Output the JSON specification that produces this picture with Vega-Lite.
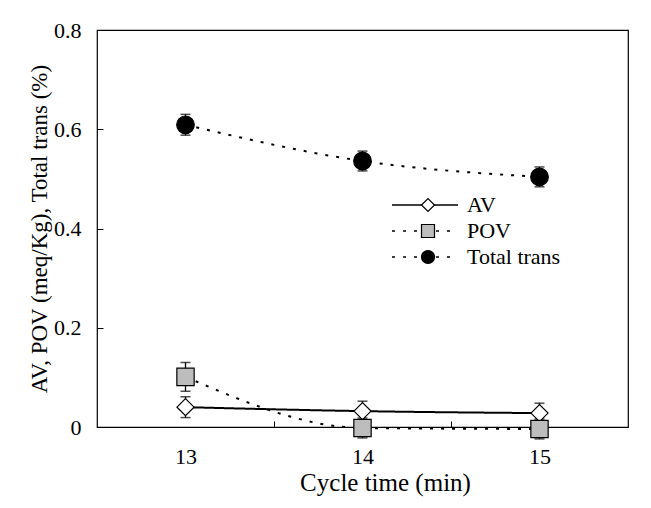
{
  "$schema": "https://vega.github.io/schema/vega-lite/v6.json",
  "width": 531,
  "height": 397,
  "autosize": {"type": "none"},
  "padding": {"left": 97, "top": 30, "right": 23, "bottom": 81},
  "background": "white",
  "config": {
    "view": {"stroke": "black", "strokeWidth": 1.2},
    "font": "Liberation Serif"
  },
  "data": {
    "values": [
      {"series": "AV", "x": 13, "y": 0.040, "lo": 0.019, "hi": 0.061},
      {"series": "AV", "x": 14, "y": 0.032, "lo": 0.012, "hi": 0.052},
      {"series": "AV", "x": 15, "y": 0.028, "lo": 0.008, "hi": 0.048},
      {"series": "POV", "x": 13, "y": 0.101, "lo": 0.072, "hi": 0.130},
      {"series": "POV", "x": 14, "y": -0.002, "lo": -0.022, "hi": 0.018},
      {"series": "POV", "x": 15, "y": -0.004, "lo": -0.024, "hi": 0.016},
      {"series": "Total trans", "x": 13, "y": 0.609, "lo": 0.588, "hi": 0.630},
      {"series": "Total trans", "x": 14, "y": 0.536, "lo": 0.516, "hi": 0.556},
      {"series": "Total trans", "x": 15, "y": 0.504, "lo": 0.484, "hi": 0.524}
    ]
  },
  "encoding": {
    "x": {
      "field": "x", "type": "quantitative",
      "scale": {"domain": [12.5, 15.5], "nice": false, "zero": false},
      "axis": {
        "values": [13, 13.5, 14, 14.5, 15],
        "format": "~g",
        "labelExpr": "datum.value % 1 ? '' : datum.label",
        "tickOpacity": {"condition": {"test": "datum.value % 1 == 0", "value": 0}, "value": 1},
        "tickSize": -6,
        "tickColor": "black",
        "domain": false,
        "grid": false,
        "labelFont": "Liberation Serif",
        "labelFontSize": 22,
        "labelColor": "black",
        "labelPadding": 25,
        "title": "Cycle time (min)",
        "titleFont": "Liberation Serif",
        "titleFontSize": 25,
        "titleFontWeight": "normal",
        "titleColor": "black",
        "titlePadding": 3,
        "titleX": 288
      }
    },
    "y": {
      "field": "y", "type": "quantitative",
      "scale": {"domain": [0, 0.8], "nice": false},
      "axis": {
        "values": [0, 0.2, 0.4, 0.6, 0.8],
        "format": "~g",
        "tickSize": -6,
        "tickColor": "black",
        "domain": false,
        "grid": false,
        "labelFont": "Liberation Serif",
        "labelFontSize": 22,
        "labelColor": "black",
        "labelPadding": 22,
        "title": "AV, POV (meq/Kg), Total trans (%)",
        "titleFont": "Liberation Serif",
        "titleFontSize": 23,
        "titleFontWeight": "normal",
        "titleColor": "black",
        "titlePadding": 2
      }
    }
  },
  "layer": [
    {
      "mark": {"type": "line", "interpolate": "monotone", "color": "black", "clip": false},
      "encoding": {
        "strokeDash": {
          "field": "series", "type": "nominal",
          "scale": {"domain": ["AV", "POV", "Total trans", "-"], "range": [[1, 0], [3, 8], [3, 8], [1, 0]]},
          "legend": {
            "title": null,
            "values": ["AV", "POV", "Total trans"],
            "orient": "none",
            "legendX": 294,
            "legendY": 162,
            "padding": 0,
            "labelFont": "Liberation Serif",
            "labelFontSize": 22,
            "labelColor": "black",
            "labelOffset": 8,
            "rowPadding": 0,
            "clipHeight": 26,
            "symbolType": "stroke",
            "symbolSize": 4356,
            "symbolStrokeWidth": 1.5,
            "symbolStrokeColor": "black"
          }
        },
        "strokeWidth": {
          "field": "series", "type": "nominal",
          "scale": {"domain": ["Total trans", "POV", "AV"], "range": [2, 2, 1.2]},
          "legend": null
        }
      }
    },
    {
      "mark": {"type": "rule", "color": "black", "strokeWidth": 1.3},
      "encoding": {"y": {"field": "lo", "type": "quantitative"}, "y2": {"field": "hi"}}
    },
    {
      "mark": {"type": "tick", "orient": "horizontal", "color": "black", "size": 10, "thickness": 1.5},
      "encoding": {"y": {"field": "lo", "type": "quantitative"}}
    },
    {
      "mark": {"type": "tick", "orient": "horizontal", "color": "black", "size": 10, "thickness": 1.5},
      "encoding": {"y": {"field": "hi", "type": "quantitative"}}
    },
    {
      "mark": {"type": "point", "filled": true, "stroke": "black", "strokeWidth": 1.2, "opacity": 1},
      "encoding": {
        "shape": {
          "field": "series", "type": "nominal",
          "scale": {"domain": ["AV", "POV", "Total trans"], "range": ["diamond", "square", "circle"]},
          "legend": {
            "title": null,
            "orient": "none",
            "legendX": 320,
            "legendY": 162,
            "padding": 0,
            "labelExpr": "''",
            "labelFontSize": 22,
            "rowPadding": 0,
            "clipHeight": 26,
            "symbolSize": 169,
            "symbolStrokeWidth": 1.2,
            "symbolOpacity": 1
          }
        },
        "fill": {
          "field": "series", "type": "nominal",
          "scale": {"domain": ["AV", "POV", "Total trans"], "range": ["white", "#bdbdbd", "black"]}
        },
        "size": {
          "field": "series", "type": "nominal",
          "scale": {"domain": ["Total trans", "POV", "AV"], "range": [310, 290, 380]},
          "legend": null
        }
      }
    }
  ]
}
